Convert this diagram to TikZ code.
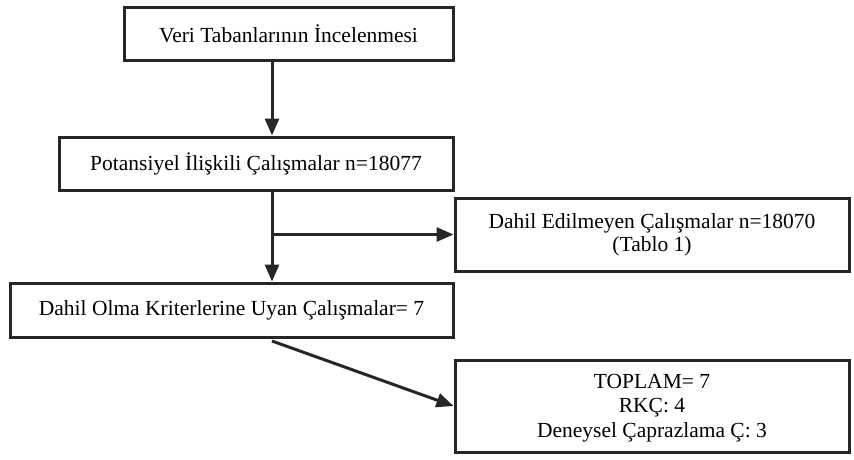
\documentclass[tikz,border=0pt]{standalone}
\usepackage{fontspec}
\setmainfont{Liberation Serif}
\usetikzlibrary{arrows.meta}
\begin{document}
\begin{tikzpicture}[x=1pt,y=-1pt,
  box/.style={draw=black!85, line width=3pt, fill=white, inner sep=0pt, align=center, font=\fontsize{21.5}{23.5}\selectfont},
  arr/.style={draw=black!85, line width=3pt, -{Stealth[length=17pt,width=14pt,inset=0pt]}}]
\useasboundingbox (0,0) rectangle (854,459);
\node[box, minimum width=329pt, minimum height=53pt] (b1) at (288.5,33.5) {Veri Tabanlarının İncelenmesi};
\node[box, minimum width=394pt, minimum height=53pt] (b2) at (256,163.5) {Potansiyel İlişkili Çalışmalar n=18077};
\node[box, minimum width=394pt, minimum height=73pt, text depth=4pt] (b4) at (652,234.5) {Dahil Edilmeyen Çalışmalar n=18070\\(Tablo 1)};
\node[box, minimum width=443pt, minimum height=54pt] (b3) at (231.5,310) {Dahil Olma Kriterlerine Uyan Çalışmalar= 7};
\node[box, minimum width=394pt, minimum height=92pt, font=\fontsize{21.5}{24.5}\selectfont] (b5) at (652,406) {\vphantom{T}\\[-20pt]TOPLAM= 7\\RKÇ: 4\\Deneysel Çaprazlama Ç: 3};
\coordinate (x) at (272,0);
\coordinate (d) at (272,341);
\draw[arr] (b1.south -| x) -- (b2.north -| x);
\draw[arr] (b2.south -| x) -- (b3.north -| x);
\draw[arr] (x |- b4.west) -- (b4.west);
\draw[arr] (d) -- (b5.west);
\end{tikzpicture}
\end{document}
